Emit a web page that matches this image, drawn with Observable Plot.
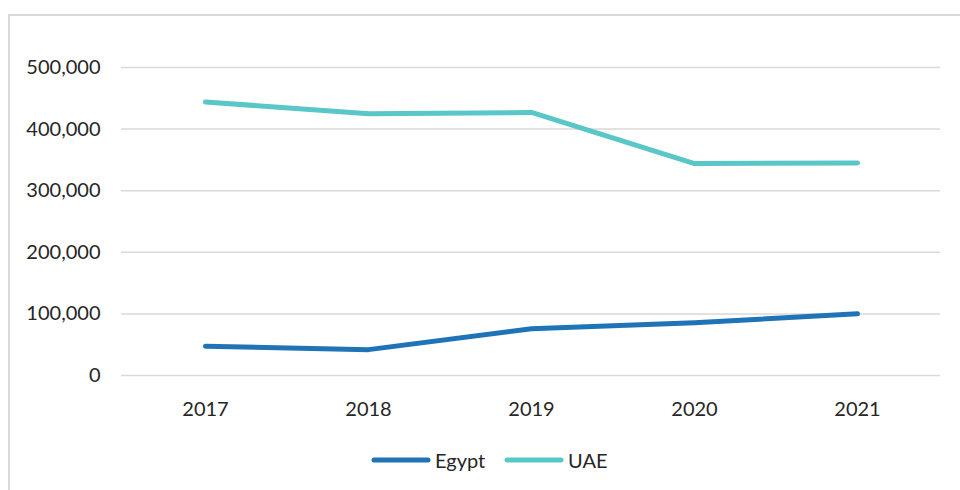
<!DOCTYPE html>
<html>
<head>
<meta charset="utf-8">
<script src="https://cdn.jsdelivr.net/npm/d3@7"></script>
<script src="https://cdn.jsdelivr.net/npm/@observablehq/plot@0.6"></script>
<style>
  html, body { margin: 0; padding: 0; background: #fff; width: 960px; height: 490px; overflow: hidden; }
  #wrap { position: relative; width: 960px; height: 490px; font-family: Lato, sans-serif; color: #262626; }
  #frame { position: absolute; left: 8px; top: 14px; width: 1000px; height: 520px; border: 2px solid #d9d9d9; box-sizing: border-box; pointer-events: none; }
  #chart { position: absolute; left: 0; top: 0; }
  .leg { position: absolute; top: 448px; display: flex; align-items: center; font-size: 20px; line-height: 24px; }
  .leg svg { display: block; margin-right: 4px; }
</style>
</head>
<body>
<div id="wrap">
  <div id="chart"></div>
  <div id="frame"></div>
  <div class="leg" style="left:371px"><svg width="60" height="10"><line x1="3" y1="5" x2="57" y2="5" stroke="#1F74B8" stroke-width="5" stroke-linecap="round"/></svg><span>Egypt</span></div>
  <div class="leg" style="left:504px"><svg width="60" height="10"><line x1="3" y1="5" x2="57" y2="5" stroke="#59C7C7" stroke-width="5" stroke-linecap="round"/></svg><span>UAE</span></div>
</div>
<script>
const years = ["2017", "2018", "2019", "2020", "2021"];
const egypt = [47600, 42000, 75800, 85500, 100200];
const uae = [444000, 425000, 427000, 344000, 345000];
const yTicks = [0, 100000, 200000, 300000, 400000, 500000];

const egyptData = years.map((y, i) => ({year: y, value: egypt[i]}));
const uaeData = years.map((y, i) => ({year: y, value: uae[i]}));
const fmt = d3.format(",");

const chart = Plot.plot({
  width: 960,
  height: 440,
  marginLeft: 121,
  marginRight: 20,
  marginTop: 67,
  marginBottom: 65,
  style: {fontFamily: "Lato, sans-serif", fontSize: "20px", color: "#262626", background: "transparent"},
  x: {type: "point", domain: years, padding: 0.5, label: null},
  y: {domain: [0, 500000], label: null},
  marks: [
    Plot.gridY(yTicks, {stroke: "#d9d9d9", strokeOpacity: 1, strokeWidth: 1.5}),
    Plot.axisY(yTicks, {tickSize: 0, tickPadding: 21, label: null, tickFormat: fmt}),
    Plot.axisX({tickSize: 0, tickPadding: 26, label: null}),
    Plot.lineY(egyptData, {x: "year", y: "value", stroke: "#1F74B8", strokeWidth: 5, strokeLinecap: "round", strokeLinejoin: "round"}),
    Plot.lineY(uaeData, {x: "year", y: "value", stroke: "#59C7C7", strokeWidth: 5, strokeLinecap: "round", strokeLinejoin: "round"})
  ]
});
document.getElementById("chart").appendChild(chart);
</script>
</body>
</html>
